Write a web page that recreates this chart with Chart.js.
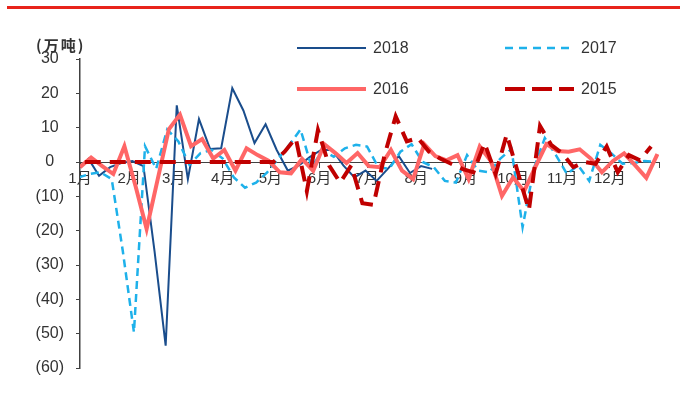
<!DOCTYPE html>
<html>
<head>
<meta charset="utf-8">
<script src="https://cdn.jsdelivr.net/npm/chart.js@4.4.1/dist/chart.umd.min.js"></script>
<style>
  body { margin: 0; background: #fff; }
  #wrap { position: relative; width: 680px; height: 416px; }
  #topline { position: absolute; left: 7px; right: 0; top: 6px; height: 3px; background: #E8231B; }
  #unit { position: absolute; left: 36px; top: 34px; font: bold 15px "Noto Sans CJK SC", sans-serif; letter-spacing: 2px; color: #333; }
  canvas { position: absolute; left: 0; top: 0; }
</style>
</head>
<body>
<div id="wrap">
  <div id="topline"></div>
  <canvas id="chart" width="680" height="416"></canvas>
  <div id="unit">(万吨)</div>
</div>
<script>
// month ticks (day of year) and their labels
const monthLabels = ['1月', '2月', '3月', '4月', '5月', '6月', '7月', '8月', '9月', '10月', '11月', '12月'];
const monthStarts = [0, 31, 59, 90, 120, 151, 181, 212, 243, 273, 304, 334];

// weekly changes, 万吨; first week's day of year for each year
const start2018 = 5;
const start2017 = -1;
const start2016 = 0;
const start2015 = 3;

const data2018 = [1.2, -4, -1.5, -0.3, 0.3, -1.2, -26, -53.5, 16.5, -5, 12.5, 3.8, 4, 21.5, 15, 5.5,
  11, 3.5, -2.5, -1, 1.5, 3.5, 3.5, -1, -4.5, -2.5, -5.5, -2, 1.7, -3.2, -1.2, -2];

const data2017 = [-4.5, -3.5, -3, -5, -26, -49.6, 4.6, -2, 9.5, 6, -0.8, 2.6, 3.5, 1, -4.5, -7.5,
  -6, -3, 1, 5, 9.5, -1.5, 3.5, 1.5, 4, 5, 4.5, -1.5, -2, 3, 5.2, 0,
  -1.5, -5.5, -6, 2, -2.5, -3, 1, 3.8, -19, -2, 7, 2, -3.5, -1, -5.5, 5,
  2.5, -0.5, -0.3, 0.3, 0];

const data2016 = [-1.5, 1.3, -1.2, -3.5, 4.6, -7, -19.5, -5, 9.5, 13.8, 4.6, 6.7, 1, 3.5, -2.5, 4,
  2, 0.3, -3, -3.3, 0.9, -2.6, 5.2, 2.6, -0.3, 2.6, -1.2, -1.5, 3.5, -2.5, -5, 5.2,
  1.7, 0.5, 2, -5, 4.5, 0.3, -9.9, -4.5, -8.5, -1.5, 5.2, 3.2, 3, 3.7, 1, -3,
  0.3, 2.5, -1, -4.6, 2.3];

const data2015 = [0, 0, 0, 0, 0, 0, 0, 0, 0, 0, 0, 0, 0, 0, 0, 0,
  0, 0, 3, 7, -8.5, 9.3, -1, -6, -1, -12, -12.5, 2, 13.3, 6, 7, 3,
  1, -0.5, -2, -3, 5.5, -3.5, 8, -3, -14, 10.5, 5, 2.5, -1.5, 0, -0.5, 4.5,
  -3, 2, 0.5, 4.5];

const toPoints = (vals, start) => vals.map((v, i) => ({ x: start + 7 * i, y: v }));

const fontFamily = '"Liberation Sans", Arial, "Noto Sans CJK SC", sans-serif';

// two-column legend drawn above the plot
const legendGrid = {
  id: 'legendGrid',
  afterDraw(chart) {
    const ctx = chart.ctx;
    const cols = [297, 505];
    const rows = [48, 89];
    chart.data.datasets.forEach((ds, i) => {
      const x = cols[i % 2];
      const y = rows[Math.floor(i / 2)];
      ctx.save();
      ctx.strokeStyle = ds.borderColor;
      ctx.lineWidth = ds.borderWidth;
      ctx.setLineDash(ds.legendDash || []);
      ctx.beginPath();
      ctx.moveTo(x, y);
      ctx.lineTo(x + 69, y);
      ctx.stroke();
      ctx.setLineDash([]);
      ctx.fillStyle = '#333';
      ctx.font = '16px ' + fontFamily;
      ctx.textBaseline = 'middle';
      ctx.fillText(ds.label, x + 76, y + 1);
      ctx.restore();
    });
  }
};

const ctx = document.getElementById('chart').getContext('2d');
const chart = new Chart(ctx, {
  type: 'line',
  data: {
    datasets: [
      {
        label: '2018',
        data: toPoints(data2018, start2018),
        borderColor: '#1A4D8C',
        borderWidth: 2,
        order: 4
      },
      {
        label: '2017',
        data: toPoints(data2017, start2017),
        borderColor: '#1EB1EA',
        borderWidth: 2.5,
        borderDash: [8, 5],
        legendDash: [8, 6],
        order: 3
      },
      {
        label: '2016',
        data: toPoints(data2016, start2016),
        borderColor: '#FF6666',
        borderWidth: 4,
        order: 2
      },
      {
        label: '2015',
        data: toPoints(data2015, start2015),
        borderColor: '#C00000',
        borderWidth: 4,
        borderDash: [16, 9],
        legendDash: [20, 7],
        order: 1
      }
    ]
  },
  options: {
    responsive: false,
    animation: false,
    devicePixelRatio: 1,
    layout: { padding: { top: 59, right: 21, bottom: 48, left: 0 } },
    elements: {
      line: { tension: 0, fill: false },
      point: { radius: 0 }
    },
    plugins: {
      legend: { display: false },
      tooltip: { enabled: false }
    },
    scales: {
      x: {
        type: 'linear',
        min: 0,
        max: 365,
        position: { y: 0 },
        afterBuildTicks(scale) {
          scale.ticks = monthStarts.concat([365]).map(v => ({ value: v }));
        },
        ticks: {
          autoSkip: false,
          maxRotation: 0,
          padding: 3,
          color: '#333',
          font: { size: 15, family: fontFamily },
          callback: (v, i) => monthLabels[i] || ''
        },
        grid: { drawOnChartArea: false, tickLength: 5, color: '#404040' },
        border: { color: '#404040', width: 1 }
      },
      y: {
        min: -60,
        max: 30,
        ticks: {
          stepSize: 10,
          crossAlign: 'center',
          padding: 12,
          color: '#333',
          font: { size: 16, family: fontFamily },
          callback: v => v < 0 ? '(' + (-v) + ')' : String(v)
        },
        grid: { drawOnChartArea: false, tickLength: 4, color: '#404040' },
        border: { color: '#404040', width: 1.5 },
        afterFit(scale) { scale.width = 80; }
      }
    }
  },
  plugins: [legendGrid]
});
</script>
</body>
</html>
